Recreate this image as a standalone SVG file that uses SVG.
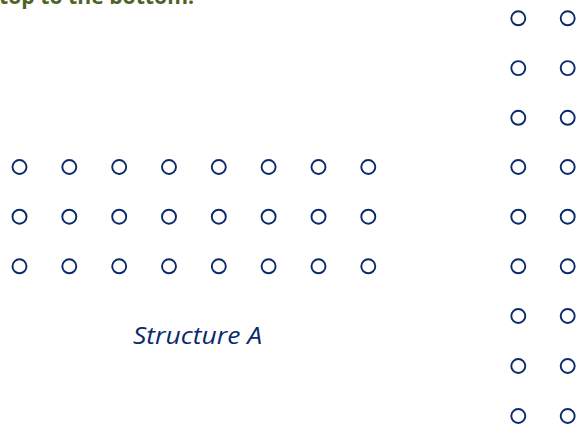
<svg xmlns="http://www.w3.org/2000/svg" xmlns:xlink="http://www.w3.org/1999/xlink" width="578" height="428" viewBox="0 0 578 428">
  <style>
    .site { fill: none; stroke: #0b2a6b; stroke-width: 1.9; }
    .heading { font-family: "Open Sans", "Liberation Sans", sans-serif; font-weight: bold; font-size: 21px; fill: #4f6228; }
    .caption { font-family: "Open Sans", "Liberation Sans", sans-serif; font-style: italic; font-size: 23.5px; fill: #0b2a6b; }
  </style>
  <defs>
    <circle id="site" r="7" class="site"/>
  </defs>

  <rect width="578" height="428" fill="#ffffff"/>

  <!-- tail of the heading line, running off the top edge -->
  <text class="heading" x="-1" y="4" textLength="195" lengthAdjust="spacingAndGlyphs">top to the bottom.</text>

  <!-- Structure A: 3 rows x 8 columns -->
  <g id="structure-a">
    <g id="a-row1">
      <use xlink:href="#site" x="19.5" y="167"/><use xlink:href="#site" x="69.3" y="167"/>
      <use xlink:href="#site" x="119.2" y="167"/><use xlink:href="#site" x="169" y="167"/>
      <use xlink:href="#site" x="218.8" y="167"/><use xlink:href="#site" x="268.6" y="167"/>
      <use xlink:href="#site" x="318.5" y="167"/><use xlink:href="#site" x="368.3" y="167"/>
    </g>
    <g id="a-row2">
      <use xlink:href="#site" x="19.5" y="216.7"/><use xlink:href="#site" x="69.3" y="216.7"/>
      <use xlink:href="#site" x="119.2" y="216.7"/><use xlink:href="#site" x="169" y="216.7"/>
      <use xlink:href="#site" x="218.8" y="216.7"/><use xlink:href="#site" x="268.6" y="216.7"/>
      <use xlink:href="#site" x="318.5" y="216.7"/><use xlink:href="#site" x="368.3" y="216.7"/>
    </g>
    <g id="a-row3">
      <use xlink:href="#site" x="19.5" y="266.3"/><use xlink:href="#site" x="69.3" y="266.3"/>
      <use xlink:href="#site" x="119.2" y="266.3"/><use xlink:href="#site" x="169" y="266.3"/>
      <use xlink:href="#site" x="218.8" y="266.3"/><use xlink:href="#site" x="268.6" y="266.3"/>
      <use xlink:href="#site" x="318.5" y="266.3"/><use xlink:href="#site" x="368.3" y="266.3"/>
    </g>
  </g>

  <text id="caption-a" class="caption" x="133" y="344" textLength="129" lengthAdjust="spacingAndGlyphs">Structure A</text>

  <!-- Structure B: 9 rows x 2 columns -->
  <g id="structure-b">
    <g id="b-col1">
      <use xlink:href="#site" x="518.3" y="18.3"/><use xlink:href="#site" x="518.3" y="68.1"/>
      <use xlink:href="#site" x="518.3" y="117.8"/><use xlink:href="#site" x="518.3" y="167"/>
      <use xlink:href="#site" x="518.3" y="216.7"/><use xlink:href="#site" x="518.3" y="266.3"/>
      <use xlink:href="#site" x="518.3" y="316"/><use xlink:href="#site" x="518.3" y="366"/>
      <use xlink:href="#site" x="518.3" y="416"/>
    </g>
    <g id="b-col2">
      <use xlink:href="#site" x="567.7" y="18.3"/><use xlink:href="#site" x="567.7" y="68.1"/>
      <use xlink:href="#site" x="567.7" y="117.8"/><use xlink:href="#site" x="567.7" y="167"/>
      <use xlink:href="#site" x="567.7" y="216.7"/><use xlink:href="#site" x="567.7" y="266.3"/>
      <use xlink:href="#site" x="567.7" y="316"/><use xlink:href="#site" x="567.7" y="366"/>
      <use xlink:href="#site" x="567.7" y="416"/>
    </g>
  </g>
</svg>
